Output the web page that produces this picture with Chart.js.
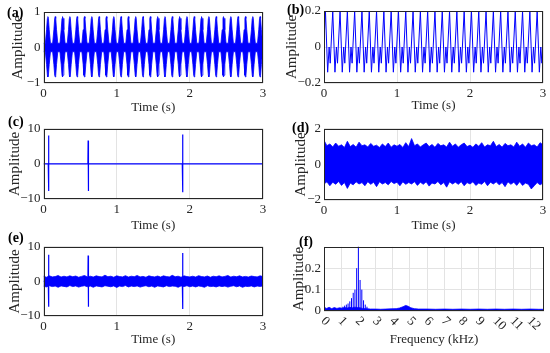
<!DOCTYPE html>
<html>
<head>
<meta charset="utf-8">
<script src="https://cdn.jsdelivr.net/npm/chart.js@4.4.1/dist/chart.umd.min.js"></script>
<style>
  body { margin: 0; background: #fff; }
  #fig { position: relative; width: 550px; height: 353px; overflow: hidden; font-family: "Liberation Serif", "Times New Roman", serif; }
  #fig canvas { position: absolute; }
  .tag { position: absolute; font-weight: bold; font-size: 14px; line-height: 14px; color: #000; }
</style>
</head>
<body>
<div id="fig">
  <canvas id="pa" width="275" height="118" style="left:0;top:0"></canvas>
  <canvas id="pb" width="275" height="118" style="left:275px;top:0"></canvas>
  <canvas id="pc" width="275" height="118" style="left:0;top:118px"></canvas>
  <canvas id="pd" width="275" height="118" style="left:275px;top:118px"></canvas>
  <canvas id="pe" width="275" height="117" style="left:0;top:236px"></canvas>
  <canvas id="pf" width="275" height="117" style="left:275px;top:236px"></canvas>
  <div class="tag" style="left:7px;top:6px">(a)</div>
  <div class="tag" style="left:287px;top:3px">(b)</div>
  <div class="tag" style="left:8px;top:115px">(c)</div>
  <div class="tag" style="left:292px;top:121px">(d)</div>
  <div class="tag" style="left:8px;top:231px">(e)</div>
  <div class="tag" style="left:299px;top:235px">(f)</div>
</div>
<script>
// ---- datos ----
const timeTicks = [0, 1, 2, 3];

// (a) señal modulada: centros de cada rafaga y forma de la envolvente
const aBurstT = [0.06, 0.16, 0.26, 0.36, 0.46, 0.56, 0.66, 0.76, 0.86, 0.96,
  1.06, 1.16, 1.26, 1.36, 1.46, 1.56, 1.66, 1.76, 1.86, 1.96,
  2.06, 2.16, 2.26, 2.36, 2.46, 2.56, 2.66, 2.76, 2.86, 2.96];
const aShapeOff = [-0.035, -0.018, -0.007, 0, 0.007, 0.018, 0.035];
const aShapeUp = [0.12, 0.5, 0.82, 0.87, 0.82, 0.5, 0.12];
const aShapeDn = [-0.12, -0.48, -0.78, -0.83, -0.78, -0.48, -0.12];
const aYTicks = [-1, 0, 1];

// (b) señal periodica: picos y forma de un ciclo
const bPeakT = [-0.08, 0.02, 0.12, 0.22, 0.32, 0.42, 0.52, 0.62, 0.72, 0.82, 0.92,
  1.02, 1.12, 1.22, 1.32, 1.42, 1.52, 1.62, 1.72, 1.82, 1.92,
  2.02, 2.12, 2.22, 2.32, 2.42, 2.52, 2.62, 2.72, 2.82, 2.92, 3.02];
const bCycleOff = [0, 0.03, 0.05, 0.065];
const bCycleVal = [0.2, -0.14, 0.0, -0.09];
const bYTicks = [-0.2, 0, 0.2];

// (c) impulsos
const cImpT = [0.068, 0.61, 1.9];
const cImpUp = [8.1, 6.7, 8.4];
const cImpDn = [-7.7, -7.7, -8.1];
const cYTicks = [-10, 0, 10];

// (d) ruido: envolvente superior / inferior cada 0.04 s
const noiseStep = 0.04;
const dUpper = [1.35, 1.05, 1.15, 0.98, 1.2, 1.02, 1.1, 0.95, 1.3, 1.0,
  1.12, 0.97, 1.25, 1.05, 1.1, 0.98, 1.18, 1.02, 1.08, 0.95,
  1.15, 1.0, 1.2, 0.97, 1.1, 1.02, 1.12, 0.95, 1.22, 1.0,
  1.45, 1.05, 1.15, 0.98, 1.1, 1.2, 1.0, 1.12, 0.96, 1.18,
  1.05, 1.1, 0.98, 1.25, 1.02, 1.15, 0.97, 1.1, 1.2, 1.0,
  1.08, 0.96, 1.15, 1.02, 1.22, 0.98, 1.1, 1.05, 1.3, 1.0,
  1.12, 0.97, 1.18, 1.05, 1.1, 0.98, 1.25, 1.02, 1.15, 0.96,
  1.2, 1.05, 1.1, 0.98, 1.22, 1.1];
const dLower = [-1.1, -0.98, -1.2, -1.0, -1.12, -0.96, -1.18, -1.02, -1.35, -1.05,
  -1.15, -0.98, -1.1, -1.02, -1.2, -0.97, -1.12, -1.0, -1.25, -0.98,
  -1.1, -1.02, -1.15, -0.96, -1.08, -1.0, -1.2, -0.98, -1.12, -1.02,
  -1.1, -0.97, -1.18, -1.0, -1.12, -0.98, -1.22, -1.05, -1.1, -0.96,
  -1.15, -1.02, -1.28, -0.98, -1.1, -1.0, -1.12, -0.97, -1.2, -1.02,
  -1.1, -0.98, -1.18, -1.05, -1.12, -0.96, -1.2, -1.0, -1.1, -0.98,
  -1.15, -1.02, -1.25, -0.98, -1.12, -1.0, -1.18, -0.97, -1.18, -1.05,
  -1.12, -1.38, -1.2, -1.02, -1.15, -1.05];
const dYTicks = [-2, 0, 2];

// (e) impulsos + ruido
const eUpper = [1.5, 1.2, 1.6, 1.3, 1.4, 1.7, 1.25, 1.5, 1.3, 1.6,
  1.35, 1.55, 1.2, 1.45, 1.7, 1.3, 1.5, 1.25, 1.6, 1.4,
  1.3, 1.8, 1.35, 1.5, 1.2, 1.6, 1.4, 1.3, 1.65, 1.25,
  1.5, 1.35, 1.7, 1.3, 1.45, 1.2, 1.6, 1.4, 1.3, 1.55,
  1.25, 1.6, 1.4, 1.3, 1.75, 1.35, 1.5, 1.2, 1.6, 1.4,
  1.3, 1.5, 1.25, 1.65, 1.4, 1.3, 1.55, 1.2, 1.5, 1.35,
  1.6, 1.3, 1.45, 1.7, 1.25, 1.5, 1.35, 1.6, 1.3, 1.45,
  1.25, 1.55, 1.4, 1.3, 1.6, 1.4];
const eLower = [-1.4, -1.6, -1.25, -1.5, -1.35, -1.7, -1.3, -1.45, -1.6, -1.2,
  -1.5, -1.3, -1.65, -1.4, -1.25, -1.55, -1.35, -1.7, -1.3, -1.45,
  -1.6, -1.25, -1.4, -1.55, -1.3, -1.75, -1.35, -1.5, -1.2, -1.6,
  -1.35, -1.5, -1.3, -1.65, -1.4, -1.25, -1.55, -1.35, -1.7, -1.3,
  -1.45, -1.6, -1.25, -1.5, -1.35, -1.4, -1.7, -1.3, -1.5, -1.25,
  -1.55, -1.35, -1.6, -1.3, -1.45, -1.7, -1.25, -1.5, -1.4, -1.6,
  -1.3, -1.5, -1.35, -1.65, -1.4, -1.25, -1.55, -1.3, -1.7, -1.4,
  -1.5, -1.3, -1.6, -1.35, -1.45, -1.3];
const eImpT = [0.068, 0.61, 1.9];
const eImpUp = [7.7, 7.5, 8.2];
const eImpDn = [-7.3, -7.3, -8.0];

// (f) espectro (kHz)
const fStemF = [0, 1.1, 1.2, 1.3, 1.4, 1.5, 1.6, 1.7, 1.8, 1.9, 2.0, 2.1, 2.2, 2.3, 2.4, 2.5];
const fStemA = [0.19, 0.02, 0.025, 0.03, 0.035, 0.045, 0.06, 0.085, 0.1, 0.2, 0.32, 0.145, 0.1, 0.05, 0.03, 0.02];
const fFloorF = [0, 0.15, 0.3, 0.45, 0.6, 0.75, 0.9, 1.05, 1.2, 1.35,
  1.5, 1.65, 1.8, 1.95, 2.1, 2.25, 2.4, 2.55, 2.7, 3.0,
  3.3, 3.6, 3.9, 4.2, 4.4, 4.6, 4.75, 4.9, 5.05, 5.25,
  5.5, 6, 6.5, 7, 7.5, 8, 8.5, 9, 9.5, 10,
  10.5, 11, 11.5, 12, 12.5, 12.8];
const fFloorA = [0.018, 0.012, 0.017, 0.011, 0.016, 0.012, 0.015, 0.013, 0.016, 0.014,
  0.017, 0.015, 0.018, 0.016, 0.015, 0.012, 0.011, 0.01, 0.009, 0.009,
  0.008, 0.009, 0.01, 0.011, 0.014, 0.02, 0.026, 0.022, 0.015, 0.011,
  0.009, 0.009, 0.008, 0.009, 0.008, 0.009, 0.008, 0.009, 0.008, 0.009,
  0.008, 0.009, 0.008, 0.009, 0.008, 0.008];
const fXTicks = [0, 1, 2, 3, 4, 5, 6, 7, 8, 9, 10, 11, 12];
const fYTicks = [0, 0.1, 0.2];

// ---- estilos ----
const BLUE = '#0000ff';
const INK = '#262626';
const GRID = '#e3e3e3';
const SERIF = '"Liberation Serif", "Times New Roman", serif';
const TICK_PX = 13;

function signed(v) { return String(v).replace('-', '\u2212'); }
function tickList(values) { return (scale) => { scale.ticks = values.map(v => ({ value: v })); }; }

function burstEnvelope(centers, offs, amps) {
  const pts = [{ x: 0, y: amps[0] }];
  centers.forEach(c => offs.forEach((o, i) => pts.push({ x: c + o, y: amps[i] })));
  pts.push({ x: 3, y: amps[0] });
  return pts;
}
function cycles(peaks, offs, vals) {
  const pts = [];
  peaks.forEach(p => offs.forEach((o, i) => pts.push({ x: p + o, y: vals[i] })));
  return pts;
}
function impulses(ts, ups, dns) {
  const pts = [{ x: 0, y: 0 }];
  ts.forEach((t, i) => {
    pts.push({ x: t - 0.003, y: 0 }, { x: t, y: ups[i] }, { x: t + 0.003, y: dns[i] }, { x: t + 0.006, y: 0 });
  });
  pts.push({ x: 3, y: 0 });
  return pts;
}
function sampled(vals, step) { return vals.map((v, i) => ({ x: i * step, y: v })); }
function stems(fs, as) {
  const pts = [];
  fs.forEach((f, i) => pts.push({ x: f, y: 0 }, { x: f, y: as[i] }, { x: f, y: null }));
  return pts;
}
function band(up, dn) {
  return [
    { data: up, fill: '+1', backgroundColor: BLUE, borderColor: BLUE, borderWidth: 0.8 },
    { data: dn, fill: false, borderColor: BLUE, borderWidth: 0.8 }
  ];
}

const boxPlugin = {
  id: 'box',
  afterDatasetsDraw(chart) {
    const { ctx, chartArea: a } = chart;
    ctx.save();
    ctx.strokeStyle = INK;
    ctx.lineWidth = 1;
    const l = Math.round(a.left) + 0.5, t = Math.round(a.top) + 0.5;
    ctx.strokeRect(l, t, Math.round(a.right) - Math.round(a.left) - 1, Math.round(a.bottom) - Math.round(a.top) - 1);
    ctx.restore();
  }
};

// etiquetas inclinadas del eje de frecuencia
const slantLabels = {
  id: 'slant',
  afterDraw(chart) {
    const s = chart.scales.x, ctx = chart.ctx, b = chart.chartArea.bottom;
    ctx.save();
    ctx.font = TICK_PX + 'px ' + SERIF;
    ctx.fillStyle = INK;
    ctx.textAlign = 'left';
    ctx.textBaseline = 'middle';
    fXTicks.forEach(v => {
      ctx.save();
      ctx.translate(s.getPixelForValue(v) - 1, b + 8);
      ctx.rotate(Math.PI / 4);
      ctx.fillText(String(v), 0, 0);
      ctx.restore();
    });
    ctx.restore();
  }
};

// g: area del grafico en coordenadas del canvas, yt/xt: centros de los titulos
function makePanel(id, g, cfg) {
  const canvas = document.getElementById(id);
  const W = canvas.width, H = canvas.height;
  const tickFont = { family: SERIF, size: TICK_PX };
  return new Chart(canvas, {
    type: 'line',
    data: { datasets: cfg.datasets },
    options: {
      responsive: false,
      animation: false,
      devicePixelRatio: 1,
      events: [],
      layout: { padding: { left: 0, top: g.y0, right: W - g.x1, bottom: 0 } },
      elements: { point: { radius: 0 }, line: { borderWidth: 1, tension: 0, borderColor: BLUE } },
      plugins: { legend: { display: false }, tooltip: { enabled: false } },
      scales: {
        x: {
          type: 'linear', min: cfg.xMin, max: cfg.xMax,
          afterBuildTicks: tickList(cfg.xTicks),
          afterFit: s => { s.height = H - g.y1; },
          grid: { color: GRID, drawTicks: false },
          border: { display: false },
          ticks: { display: !cfg.slant, padding: 3, font: tickFont, color: INK, maxRotation: 0, autoSkip: false, callback: signed },
          title: { display: true, text: cfg.xTitle, color: INK, font: { family: SERIF, size: 13, lineHeight: 1.2 }, padding: { top: 0, bottom: g.xt - 7.8 } }
        },
        y: {
          type: 'linear', min: cfg.yMin, max: cfg.yMax,
          afterBuildTicks: tickList(cfg.yTicks),
          afterFit: s => { s.width = g.x0; },
          grid: { color: GRID, drawTicks: false },
          border: { display: false },
          ticks: { padding: 3, font: tickFont, color: INK, autoSkip: false, callback: signed },
          title: { display: true, text: 'Amplitude', color: INK, font: { family: SERIF, size: 15, lineHeight: 1.2 }, padding: { top: g.yt - 9, bottom: 0 } }
        }
      }
    },
    plugins: cfg.slant ? [boxPlugin, slantLabels] : [boxPlugin]
  });
}

makePanel('pa', { x0: 43.5, x1: 263, y0: 12, y1: 83, yt: 18, xt: 10 }, {
  xMin: 0, xMax: 3, xTicks: timeTicks, yMin: -1, yMax: 1, yTicks: aYTicks, xTitle: 'Time (s)',
  datasets: band(burstEnvelope(aBurstT, aShapeOff, aShapeUp), burstEnvelope(aBurstT, aShapeOff, aShapeDn))
});

makePanel('pb', { x0: 49, x1: 268, y0: 11, y1: 83, yt: 17.5, xt: 12 }, {
  xMin: 0, xMax: 3, xTicks: timeTicks, yMin: -0.2, yMax: 0.2, yTicks: bYTicks, xTitle: 'Time (s)',
  datasets: [{ data: cycles(bPeakT, bCycleOff, bCycleVal), borderWidth: 1 }]
});

makePanel('pc', { x0: 43.5, x1: 263, y0: 9, y1: 81, yt: 15, xt: 10.5 }, {
  xMin: 0, xMax: 3, xTicks: timeTicks, yMin: -10, yMax: 10, yTicks: cYTicks, xTitle: 'Time (s)',
  datasets: [{ data: impulses(cImpT, cImpUp, cImpDn), borderWidth: 1.2 }]
});

makePanel('pd', { x0: 49, x1: 268, y0: 9, y1: 82, yt: 26.5, xt: 10.5 }, {
  xMin: 0, xMax: 3, xTicks: timeTicks, yMin: -2, yMax: 2, yTicks: dYTicks, xTitle: 'Time (s)',
  datasets: band(sampled(dUpper, noiseStep), sampled(dLower, noiseStep))
});

makePanel('pe', { x0: 43.5, x1: 263, y0: 7, y1: 80, yt: 15, xt: 13.5 }, {
  xMin: 0, xMax: 3, xTicks: timeTicks, yMin: -10, yMax: 10, yTicks: cYTicks, xTitle: 'Time (s)',
  datasets: band(sampled(eUpper, noiseStep), sampled(eLower, noiseStep))
    .concat([{ data: impulses(eImpT, eImpUp, eImpDn), borderWidth: 1.2 }])
});

makePanel('pf', { x0: 49, x1: 269, y0: 7, y1: 75, yt: 24, xt: 13 }, {
  xMin: 0, xMax: 12.8, xTicks: fXTicks, yMin: 0, yMax: 0.3, yTicks: fYTicks, xTitle: 'Frequency (kHz)', slant: true,
  datasets: [
    { data: fFloorF.map((f, i) => ({ x: f, y: fFloorA[i] })), fill: 'origin', backgroundColor: BLUE, borderWidth: 0.8 },
    { data: stems(fStemF, fStemA), borderWidth: 1, spanGaps: false }
  ]
});
</script>
</body>
</html>
